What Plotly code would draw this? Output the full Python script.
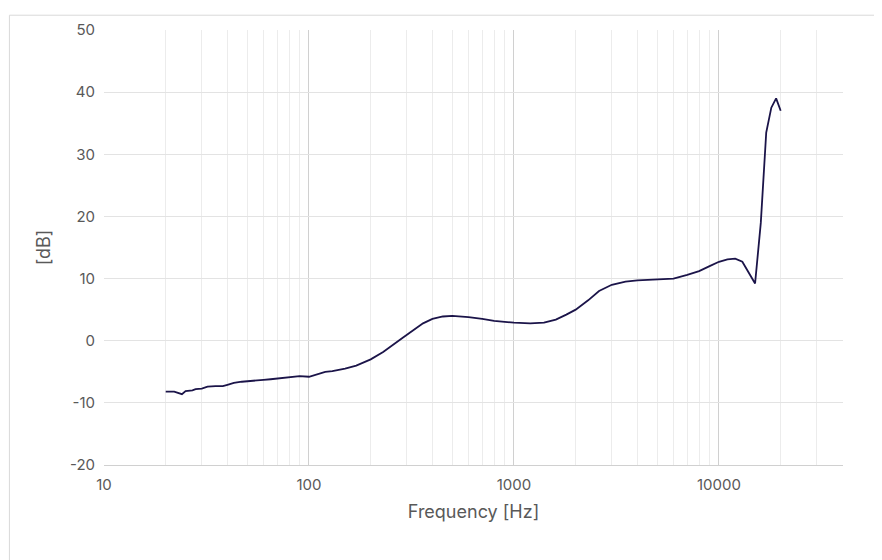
import plotly.graph_objects as go

freq = [20, 22, 24, 25, 27, 28, 30, 32, 35, 38, 40, 43, 47, 50, 55, 60, 65, 70, 80, 90,
        100, 110, 120, 130, 150, 170, 200, 230, 260, 290, 320, 360, 400, 450, 500, 600,
        700, 800, 1000, 1200, 1400, 1600, 1800, 2000, 2300, 2600, 3000, 3500, 4000, 5000,
        6000, 7000, 8000, 9000, 10000, 11000, 12000, 13000, 14000, 15000, 16000, 17000,
        18000, 19000, 20000]
db = [-8.2, -8.2, -8.6, -8.1, -8.0, -7.8, -7.7, -7.4, -7.3, -7.3, -7.1, -6.8, -6.6, -6.5,
      -6.4, -6.3, -6.2, -6.1, -5.9, -5.7, -5.8, -5.4, -5.0, -4.9, -4.5, -4.0, -3.0, -1.8,
      -0.6, 0.6, 1.6, 2.8, 3.5, 3.9, 4.0, 3.8, 3.5, 3.2, 2.9, 2.8, 2.9, 3.4, 4.2, 5.0,
      6.5, 8.0, 9.0, 9.5, 9.7, 9.8, 10.0, 10.6, 11.2, 12.0, 12.7, 13.1, 13.2, 12.7, 11.0,
      9.2, 19.0, 33.5, 37.5, 39.0, 37.0]
y_ticks = [-20, -10, 0, 10, 20, 30, 40, 50]

grey = "#595959"
fig = go.Figure(go.Scatter(x=freq, y=db, mode="lines",
                           line=dict(color="#1b1449", width=1.8)))
fig.update_layout(
    width=882, height=560, paper_bgcolor="white", plot_bgcolor="white",
    margin=dict(l=96, r=47, t=16, b=103), showlegend=False,
    font=dict(family="Inter, Liberation Sans, sans-serif", size=15, color=grey),
    shapes=[dict(type="rect", xref="paper", yref="paper", x0=-0.128, x1=1.062,
                 y0=-0.231, y1=1.034, line=dict(color="#d9d9d9", width=1))],
)
fig.update_xaxes(type="log", range=[1, 4.605], tickvals=[10, 100, 1000, 10000],
                 ticktext=["10", "100", "1000", "10000"], ticklabelstandoff=6,
                 showgrid=True, gridcolor="#d0d0d0", gridwidth=1.2,
                 minor=dict(showgrid=True, gridcolor="#ececec",
                            tickvals=[m * 10 ** k for k in range(1, 5) for m in range(2, 10)]),
                 showline=True, linecolor="#d0d0d0", zeroline=False, ticks="",
                 title=dict(text="Frequency [Hz]", standoff=12))
fig.update_yaxes(range=[-20, 50], tickvals=y_ticks, ticktext=[str(v) for v in y_ticks],
                 ticklabelstandoff=8, showgrid=True, gridcolor="#e3e3e3",
                 zeroline=False, ticks="", showline=False,
                 title=dict(text="[dB]", standoff=14))
fig.write_html("out.html")
